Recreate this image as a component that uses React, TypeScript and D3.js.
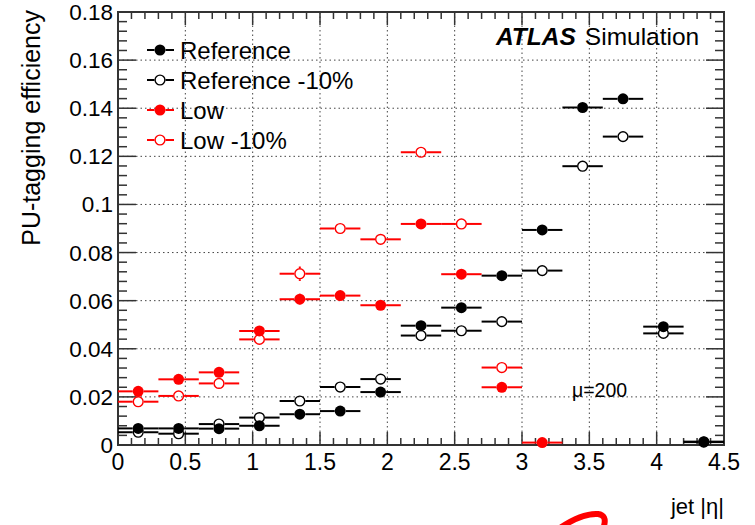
import React from 'react';
import * as d3 from 'd3';

// bin edges in jet |eta|, width 0.3
const binLow = [0, 0.3, 0.6, 0.9, 1.2, 1.5, 1.8, 2.1, 2.4, 2.7, 3.0, 3.3, 3.6, 3.9, 4.2];
const binWidth = 0.3;

const reference = [0.0069, 0.0069, 0.0068, 0.008, 0.0128, 0.0141, 0.022, 0.0496, 0.0571, 0.0704, 0.0894, 0.1403, 0.1439, 0.0492, 0.0014];
const referenceM10 = [0.0053, 0.0047, 0.0087, 0.0114, 0.0183, 0.0241, 0.0274, 0.0455, 0.0475, 0.0513, 0.0725, 0.1159, 0.1282, 0.0464, 0.0012];
const low = [0.0223, 0.0273, 0.0302, 0.0474, 0.0606, 0.0621, 0.0581, 0.0919, 0.071, 0.024, 0.001];
const lowM10 = [0.018, 0.0204, 0.0256, 0.0439, 0.0712, 0.09, 0.0855, 0.1217, 0.0919, 0.0322];

const referenceErr = [0.0005, 0.0005, 0.0005, 0.0006, 0.0008, 0.0008, 0.001, 0.0012, 0.0012, 0.0013, 0.0015, 0.0018, 0.0018, 0.0012, 0.0004];
const lowErr = [0.0012, 0.0013, 0.0014, 0.0018, 0.0024, 0.0018, 0.0016, 0.0018, 0.0016, 0.0012, 0.0004];
const lowM10Err = [0.0011, 0.0012, 0.0013, 0.0017, 0.003, 0.0018, 0.0016, 0.0018, 0.0016, 0.0012];

const xTicks = [0, 0.5, 1, 1.5, 2, 2.5, 3, 3.5, 4, 4.5];
const yTicks = [0, 0.02, 0.04, 0.06, 0.08, 0.1, 0.12, 0.14, 0.16, 0.18];

const series = [
  { name: 'Reference -10%', values: referenceM10, errs: referenceErr, color: '#000', open: true },
  { name: 'Low -10%', values: lowM10, errs: lowM10Err, color: '#ff0000', open: true },
  { name: 'Reference', values: reference, errs: referenceErr, color: '#000', open: false },
  { name: 'Low', values: low, errs: lowErr, color: '#ff0000', open: false },
];
const legendOrder = ['Reference', 'Reference -10%', 'Low', 'Low -10%'];

const W = 755, H = 525;
const left = 118, right = 724, top = 12, bottom = 445;
const FONT = '"Liberation Sans", Arial, Helvetica, sans-serif';

export default function App() {
  const x = d3.scaleLinear().domain([0, 4.5]).range([left, right]);
  const y = d3.scaleLinear().domain([0, 0.18]).range([bottom, top]);
  const r = 5.5;

  const xMinor = d3.range(0, 4.5001, 0.1);
  const yMinor = d3.range(0, 0.18001, 0.004);

  return (
    <svg width={W} height={H} style={{ position: 'absolute', left: 0, top: 0, background: '#fff' }} fontFamily={FONT}>
      <rect width={W} height={H} fill="#fff" />
      {/* grid */}
      {xTicks.slice(1, -1).map((t) => (
        <line key={'gx' + t} x1={x(t)} x2={x(t)} y1={top} y2={bottom} stroke="#444" strokeWidth={1} strokeDasharray="1.5,3" />
      ))}
      {yTicks.slice(1, -1).map((t) => (
        <line key={'gy' + t} x1={left} x2={right} y1={y(t)} y2={y(t)} stroke="#444" strokeWidth={1} strokeDasharray="1.5,3" />
      ))}

      {/* ticks */}
      {xMinor.map((t, i) => {
        const len = i % 5 === 0 ? 13 : 7;
        return (
          <g key={'tx' + i} stroke="#333" strokeWidth={1.5}>
            <line x1={x(t)} x2={x(t)} y1={bottom} y2={bottom - len} />
            <line x1={x(t)} x2={x(t)} y1={top} y2={top + len} />
          </g>
        );
      })}
      {yMinor.map((t, i) => {
        const len = i % 5 === 0 ? 18 : 9;
        return (
          <g key={'ty' + i} stroke="#333" strokeWidth={1.5}>
            <line x1={left} x2={left + len} y1={y(t)} y2={y(t)} />
            <line x1={right} x2={right - len} y1={y(t)} y2={y(t)} />
          </g>
        );
      })}
      <rect x={left} y={top} width={right - left} height={bottom - top} fill="none" stroke="#333" strokeWidth={2} />

      {/* tick labels */}
      {xTicks.map((t) => (
        <text key={'lx' + t} x={x(t)} y={470} textAnchor="middle" fontSize={23} fill="#000">{t}</text>
      ))}
      {yTicks.map((t) => (
        <text key={'ly' + t} x={113} y={y(t) + 8} textAnchor="end" fontSize={22.5} fill="#000">{t}</text>
      ))}

      {/* axis titles */}
      <text transform={`translate(40,10) rotate(-90)`} textAnchor="end" fontSize={25} fill="#000">PU-tagging efficiency</text>
      <text x={724} y={514} textAnchor="end" fontSize={22} fill="#000">jet |η|</text>

      {/* data */}
      {series.map((s) => (
        <g key={s.name}>
          {s.values.map((v, i) => {
            const cx = x(binLow[i] + binWidth / 2);
            const cy = y(v);
            const x0 = x(binLow[i]);
            const x1 = x(binLow[i] + binWidth);
            const e = s.errs[i] || 0;
            const yTop = y(v + e);
            const yBot = Math.min(y(v - e), bottom);
            return (
              <g key={i} stroke={s.color} strokeWidth={2}>
                <line x1={x0} x2={cx - r} y1={cy} y2={cy} />
                <line x1={cx + r} x2={x1} y1={cy} y2={cy} />
                {cy - yTop > r && <line x1={cx} x2={cx} y1={yTop} y2={cy - r} />}
                {yBot - cy > r && <line x1={cx} x2={cx} y1={cy + r} y2={yBot} />}
                <circle cx={cx} cy={cy} r={s.open ? r - 0.6 : r} fill={s.open ? 'none' : s.color} strokeWidth={s.open ? 1.4 : 0} />
              </g>
            );
          })}
        </g>
      ))}

      {/* legend */}
      {legendOrder.map((name, i) => {
        const s = series.find((d) => d.name === name)!;
        const ly = 50 + i * 30;
        return (
          <g key={'leg' + name}>
            <g stroke={s.color} strokeWidth={2}>
              <line x1={147} x2={160 - r} y1={ly} y2={ly} />
              <line x1={160 + r} x2={174} y1={ly} y2={ly} />
              <circle cx={160} cy={ly} r={s.open ? r - 0.6 : r} fill={s.open ? 'none' : s.color} strokeWidth={s.open ? 1.4 : 0} />
            </g>
            <text x={180} y={ly + 8.5} fontSize={24} fill="#000">{name}</text>
          </g>
        );
      })}

      {/* labels */}
      <text x={496} y={45} fontSize={24.5} fill="#000">
        <tspan fontWeight="bold" fontStyle="italic">ATLAS</tspan>
        <tspan dx={9}>Simulation</tspan>
      </text>
      <text x={572} y={397} fontSize={19.5} fill="#000">μ=200</text>

      {/* red pen stroke */}
      <path d="M560,528 Q582,513 598,514 Q607,515 604,526" fill="none" stroke="#ff0000" strokeWidth={6} strokeLinecap="round" />
    </svg>
  );
}
